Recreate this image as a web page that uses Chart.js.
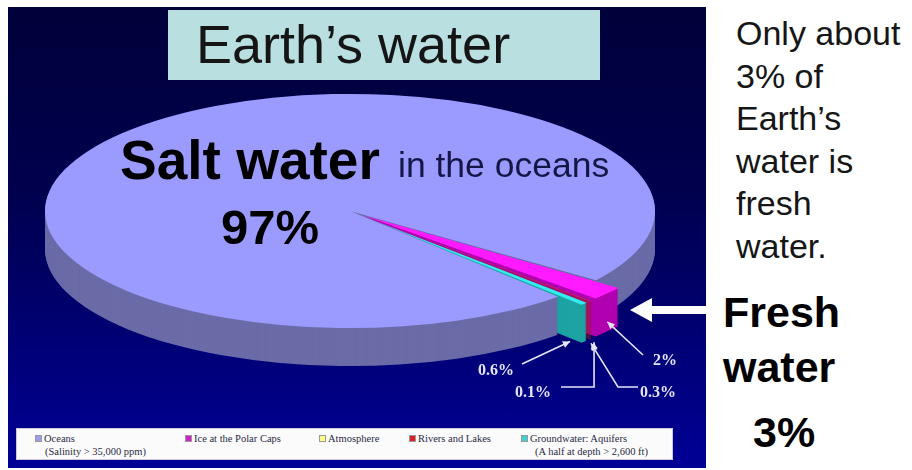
<!DOCTYPE html>
<html>
<head>
<meta charset="utf-8">
<script src="https://cdn.jsdelivr.net/npm/chart.js@4.4.0/dist/chart.umd.min.js"></script>
<style>
  body { margin: 0; width: 912px; height: 470px; overflow: hidden; position: relative; background: #fff;
         font-family: "Liberation Sans", Arial, sans-serif; }
  #panel { position: absolute; left: 8px; top: 7px; width: 698px; height: 461px;
           background: linear-gradient(#00003a, #00004e 40%, #000096); }
  #pie { position: absolute; left: 0; top: 0; }
  .t { position: absolute; white-space: nowrap; line-height: 1; }
  #titlebox { position: absolute; left: 168px; top: 10px; width: 432px; height: 70px; background: #b9dfe1; }
  #legend { position: absolute; left: 16px; top: 428px; width: 657px; height: 32px; background: #fbfbfb;
            border: 1px solid #c8c8d8; box-sizing: border-box;
            font-family: "Liberation Serif", "Times New Roman", serif; font-size: 10.5px; color: #2a2a44; }
  .item { position: absolute; top: 3px; line-height: 13px; white-space: nowrap; }
  .item i { display: inline-block; width: 7px; height: 7px; margin-right: 2px; vertical-align: 0; }
  .call { position: absolute; line-height: 1; font-family: "Liberation Serif", "Times New Roman", serif;
          font-weight: bold; font-size: 16px; color: #e4e4fa; }
</style>
</head>
<body>
<div id="panel"><canvas id="pie" width="698" height="461"></canvas></div>
<div id="titlebox"></div>
<div class="t" style="left:196px;top:17px;font-size:54px;color:#151515;">Earth’s water</div>
<div class="t" style="left:120px;top:133px;font-size:55px;font-weight:bold;color:#000;">Salt water</div>
<div class="t" style="left:398px;top:148px;font-size:35.5px;color:#161646;">in the oceans</div>
<div class="t" style="left:221px;top:203px;font-size:49px;font-weight:bold;color:#000;">97%</div>
<div class="t" style="left:736px;top:12px;font-size:34px;line-height:42.5px;color:#161616;">Only about<br>3% of<br>Earth’s<br>water is<br>fresh<br>water.</div>
<div class="t" style="left:723px;top:291px;font-size:43px;font-weight:bold;color:#000;">Fresh</div>
<div class="t" style="left:723px;top:346px;font-size:43px;font-weight:bold;color:#000;">water</div>
<div class="t" style="left:753px;top:411px;font-size:43px;font-weight:bold;color:#000;">3%</div>
<div id="legend"></div>
<div id="calls"></div>

<script>
// data
const categories = ['Oceans', 'Ice at the Polar Caps', 'Atmosphere', 'Rivers and Lakes', 'Groundwater: Aquifers'];
const notes = ['(Salinity > 35,000 ppm)', '', '', '', '(A half at depth > 2,600 ft)'];
const shares = [97, 2, 0.1, 0.3, 0.6];
const shareLabels = ['97%', '2%', '0.1%', '0.3%', '0.6%'];

const topColors = ['#9b9bff', '#ff1aff', '#ffe84a', '#d8401c', '#30eeee'];
const sideColors = ['#6b6ba8', '#b000b0', '#c09000', '#9a2410', '#1ea3a3'];
const legendColors = ['#9d9dee', '#d020c8', '#ffff80', '#e02020', '#40d0d0'];
const legendX = [18, 168, 302, 392, 504];

const squash = 0.384;
const depth = 38;

// label boxes (page coords) and where the leader starts
const calls = [
  null,
  {left: 653, top: 352, from: [[643, 355]]},
  {left: 515, top: 384, from: [[561, 387], 'elbow']},
  {left: 640, top: 384, from: [[638, 387], [618, 387]]},
  {left: 478, top: 362, from: [[522, 364]]}
];

function buildLegend() {
  let box = document.getElementById('legend');
  for (let i = 0; i < categories.length; i++) {
    let d = document.createElement('div');
    d.className = 'item';
    d.style.left = legendX[i] + 'px';
    let sw = '<i style="background:' + legendColors[i] + ';border:1px solid #999;box-sizing:border-box"></i>';
    d.innerHTML = sw + categories[i] + (notes[i] ? '<br><span style="padding-left:' + (i == 0 ? 10 : 14) + 'px">' + notes[i] + '</span>' : '');
    box.appendChild(d);
  };
};

function buildCalls() {
  let box = document.getElementById('calls');
  for (let i = 1; i < calls.length; i++) {
    let s = document.createElement('div');
    s.className = 'call';
    s.style.left = calls[i].left + 'px';
    s.style.top = calls[i].top + 'px';
    s.textContent = shareLabels[i];
    box.appendChild(s);
  };
};

function rimPoint(arc, angle, dr, down) {
  const off = (arc.options.offset || 0) / 4;
  const mid = (arc.startAngle + arc.endAngle) / 2;
  const r = arc.outerRadius + off * (1 - Math.sin(Math.min(Math.PI, arc.circumference))) + dr;
  return [arc.x + Math.cos(mid) * off + Math.cos(angle) * r,
          arc.y + squash * (Math.sin(mid) * off + Math.sin(angle) * r) + down];
};

function arrowHead(ctx, from, to, size) {
  const a = Math.atan2(to[1] - from[1], to[0] - from[0]);
  ctx.beginPath();
  ctx.moveTo(to[0], to[1]);
  ctx.lineTo(to[0] - size * Math.cos(a - 0.45), to[1] - size * Math.sin(a - 0.45));
  ctx.lineTo(to[0] - size * Math.cos(a + 0.45), to[1] - size * Math.sin(a + 0.45));
  ctx.closePath();
  ctx.fill();
};

const pie3d = {
  id: 'pie3d',
  beforeDatasetsDraw(chart) {
    const ctx = chart.ctx;
    const arcs = chart.getDatasetMeta(0).data;
    const cx = arcs[0].x, cy = arcs[0].y;
    ctx.save();
    ctx.translate(cx, cy);
    ctx.scale(1, squash);
    ctx.translate(-cx, -cy);
    // side walls: stack the slices downwards in darker colours
    for (let d = depth; d > 0; d--) {
      arcs.forEach((arc, i) => {
        let ghost = Object.create(arc);
        ghost.options = Object.assign({}, arc.options, {backgroundColor: sideColors[i], borderWidth: 0});
        ctx.save();
        ctx.translate(0, d / squash);
        Chart.ArcElement.prototype.draw.call(ghost, ctx);
        ctx.restore();
      });
    };
  },
  afterDatasetsDraw(chart) {
    const ctx = chart.ctx;
    ctx.restore();
    const arcs = chart.getDatasetMeta(0).data;
    const ox = 8, oy = 7;
    ctx.save();
    ctx.strokeStyle = '#e4e4fa';
    ctx.fillStyle = '#e4e4fa';
    ctx.lineWidth = 1.6;
    for (let i = 1; i < arcs.length; i++) {
      const a = arcs[i];
      let tip;
      if (i == 1) {
        tip = rimPoint(a, (a.startAngle + a.endAngle) / 2, 0, depth * 0.75);
      } else if (i == arcs.length - 1) {
        tip = rimPoint(a, a.endAngle, -14, depth + 2);
      } else {
        tip = rimPoint(a, (a.startAngle + a.endAngle) / 2, 0, depth + 4);
      };
      let pts = calls[i].from.map(p => p == 'elbow' ? null : [p[0] - ox, p[1] - oy]);
      if (pts[1] === null) pts[1] = [tip[0], pts[0][1]];
      pts.push(tip);
      ctx.beginPath();
      ctx.moveTo(pts[0][0], pts[0][1]);
      for (let k = 1; k < pts.length; k++) ctx.lineTo(pts[k][0], pts[k][1]);
      ctx.stroke();
      arrowHead(ctx, pts[pts.length - 2], tip, 8);
    };
    // big arrow towards the fresh water wedge
    ctx.fillStyle = '#ffffff';
    const ay = 303, ax = 622;
    ctx.beginPath();
    ctx.moveTo(ax, ay);
    ctx.lineTo(ax + 22, ay - 12);
    ctx.lineTo(ax + 22, ay - 4);
    ctx.lineTo(chart.width, ay - 4);
    ctx.lineTo(chart.width, ay + 4);
    ctx.lineTo(ax + 22, ay + 4);
    ctx.lineTo(ax + 22, ay + 12);
    ctx.closePath();
    ctx.fill();
    ctx.restore();
  }
};

buildLegend();
buildCalls();

new Chart(document.getElementById('pie'), {
  type: 'pie',
  data: {
    labels: categories,
    datasets: [{
      data: shares,
      backgroundColor: topColors,
      borderWidth: 0,
      offset: [0, 64, 64, 64, 64],
      radius: 305,
      clip: false
    }]
  },
  options: {
    responsive: false,
    animation: false,
    events: [],
    rotation: 137,
    layout: {padding: {left: 0, right: 14, top: 0, bottom: 53}},
    plugins: {legend: {display: false}, tooltip: {enabled: false}}
  },
  plugins: [pie3d]
});
</script>
</body>
</html>
